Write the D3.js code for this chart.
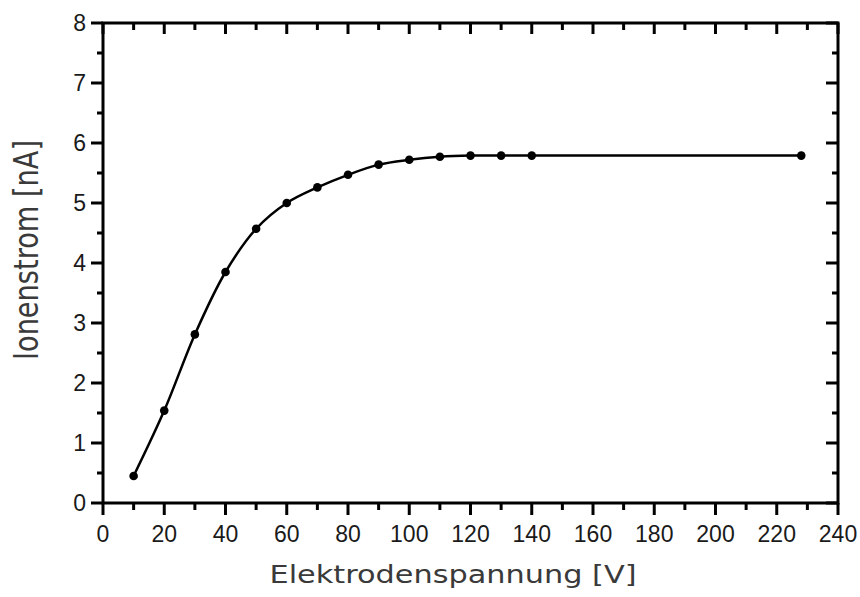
<!DOCTYPE html>
<html>
<head>
<meta charset="utf-8">
<script src="https://cdn.jsdelivr.net/npm/d3@7"></script>
<style>
  html, body { margin: 0; padding: 0; background: #fff; }
  svg { display: block; }
</style>
</head>
<body>
<svg id="chart" width="860" height="597"></svg>
<script>
const voltage = [10, 20, 30, 40, 50, 60, 70, 80, 90, 100, 110, 120, 130, 140, 228];
const current = [0.45, 1.54, 2.81, 3.85, 4.57, 5.0, 5.26, 5.47, 5.64, 5.72, 5.77, 5.79, 5.79, 5.79, 5.79];
const xTicks = [0, 20, 40, 60, 80, 100, 120, 140, 160, 180, 200, 220, 240];
const yTicks = [0, 1, 2, 3, 4, 5, 6, 7, 8];
const xTitle = "Elektrodenspannung [V]";
const yTitle = "Ionenstrom [nA]";

const svg = d3.select("#chart");
const pL = 103, pR = 838, pT = 23, pB = 503;
const x = d3.scaleLinear().domain([0, 240]).range([pL, pR]);
const y = d3.scaleLinear().domain([0, 8]).range([pB, pT]);
const tickFont = "'Liberation Sans', Arial, sans-serif";
const titleFont = "'DejaVu Sans', Verdana, sans-serif";

const xMinor = d3.range(10, 240, 20);
const yMinor = d3.range(0.5, 8, 1);

const g = svg.append("g");

function ticks(vals, len, side) {
  vals.forEach(v => {
    let x1, y1, x2, y2;
    if (side === "bottom") { x1 = x2 = x(v); y1 = pB; y2 = pB + len; }
    if (side === "top") { x1 = x2 = x(v); y1 = pT; y2 = pT + len; }
    if (side === "left") { y1 = y2 = y(v); x1 = pL; x2 = pL - len; }
    if (side === "right") { y1 = y2 = y(v); x1 = pR; x2 = pR - len; }
    g.append("line").attr("x1", x1).attr("y1", y1).attr("x2", x2).attr("y2", y2)
      .attr("stroke", "#000").attr("stroke-width", 3);
  });
}
ticks(xTicks, 12, "bottom");
ticks(xMinor, 7, "bottom");
ticks(xTicks, 11, "top");
ticks(xMinor, 7, "top");
ticks(yTicks, 12, "left");
ticks(yMinor, 6, "left");
ticks(yTicks, 12, "right");
ticks(yMinor, 6, "right");

g.append("rect").attr("x", pL).attr("y", pT).attr("width", pR - pL).attr("height", pB - pT)
  .attr("fill", "none").attr("stroke", "#000").attr("stroke-width", 3);

g.selectAll(".xl").data(xTicks).enter().append("text")
  .attr("x", d => x(d)).attr("y", 542)
  .attr("text-anchor", "middle")
  .attr("font-family", tickFont).attr("font-size", 23).attr("fill", "#1a1a1a")
  .text(d => d);
g.selectAll(".yl").data(yTicks).enter().append("text")
  .attr("x", 86).attr("y", d => y(d) + 8)
  .attr("text-anchor", "end")
  .attr("font-family", tickFont).attr("font-size", 23).attr("fill", "#1a1a1a")
  .text(d => d);

g.append("text").attr("x", 453).attr("y", 583)
  .attr("text-anchor", "middle")
  .attr("font-family", titleFont).attr("font-size", 25).attr("fill", "#3a3a3a")
  .attr("textLength", 367).attr("lengthAdjust", "spacingAndGlyphs")
  .text(xTitle);
g.append("text").attr("transform", "translate(38,250) rotate(-90)")
  .attr("text-anchor", "middle")
  .attr("font-family", titleFont).attr("font-size", 33).attr("fill", "#3a3a3a")
  .attr("textLength", 220).attr("lengthAdjust", "spacingAndGlyphs")
  .text(yTitle);

const data = voltage.map((v, i) => ({ v, c: current[i] }));
const line = d3.line().x(d => x(d.v)).y(d => y(d.c)).curve(d3.curveCatmullRom.alpha(0.5));
g.append("path").datum(data).attr("d", line)
  .attr("fill", "none").attr("stroke", "#000").attr("stroke-width", 2.5);
g.selectAll(".pt").data(data).enter().append("circle")
  .attr("cx", d => x(d.v)).attr("cy", d => y(d.c)).attr("r", 4.3).attr("fill", "#000");
</script>
</body>
</html>
